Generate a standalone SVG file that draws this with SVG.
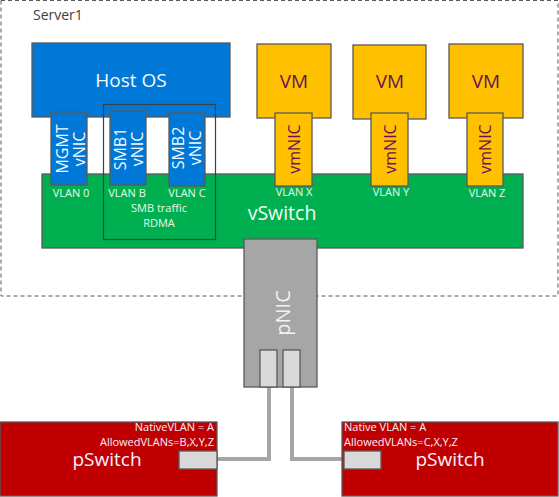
<svg xmlns="http://www.w3.org/2000/svg" width="559" height="497" viewBox="0 0 559 497">
<style>
text{font-family:"Open Sans","Noto Sans",sans-serif}
.b{stroke:#595959;stroke-width:1.3}
.blue{fill:#0078D7}
.vm{fill:#FFC000}
.sw{fill:#00B050}
.nic{fill:#A6A6A6}
.port{fill:#D9D9D9}
.ps{fill:#C00000}
.wt{fill:#F2F8FF}
.pt{fill:#6A1550}
.vl{fill:#E8F8E8;font-size:11px}
.wire{stroke:#A6A6A6;stroke-width:4;fill:none}
</style>
<rect width="559" height="497" fill="#fff"/>
<g id="server1">
<rect x="1" y="0.5" width="557" height="295.5" fill="none" stroke="#595959" stroke-width="1" stroke-dasharray="4,3"/>
<text x="33" y="20" font-size="14" fill="#404040">Server1</text>
</g>
<g id="vswitch">
<rect class="sw b" x="42" y="174" width="481" height="74"/>
<text x="282" y="220" font-size="19.5" fill="#F2FFF2" text-anchor="middle">vSwitch</text>
<text class="vl" x="71" y="197" text-anchor="middle">VLAN 0</text>
<text class="vl" x="127" y="197" text-anchor="middle">VLAN B</text>
<text class="vl" x="187" y="197" text-anchor="middle">VLAN C</text>
<text class="vl" x="294" y="196" text-anchor="middle">VLAN X</text>
<text class="vl" x="391" y="196" text-anchor="middle">VLAN Y</text>
<text class="vl" x="487" y="197" text-anchor="middle">VLAN Z</text>
</g>
<g id="hostos">
<rect class="blue b" x="32" y="43" width="198" height="74"/>
<text class="wt" x="131" y="87" font-size="19" text-anchor="middle">Host OS</text>
</g>
<g id="smbgroup">
<rect x="103.5" y="104.5" width="112" height="135" fill="none" stroke="#404040" stroke-width="1.2"/>
<text class="vl" x="159" y="211.5" text-anchor="middle" font-size="11.5">SMB traffic</text>
<text class="vl" x="159" y="227" text-anchor="middle" font-size="11.5">RDMA</text>
</g>
<g id="mgmt-vnic">
<rect class="blue b" x="51" y="112" width="36" height="73"/>
<text class="wt" font-size="16" text-anchor="middle" transform="translate(68,149) rotate(-90)"><tspan x="0" y="0">MGMT</tspan><tspan x="0" y="17">vNIC</tspan></text>
</g>
<g id="smb1-vnic">
<rect class="blue b" x="110" y="111" width="36" height="74"/>
<text class="wt" font-size="16" text-anchor="middle" transform="translate(126,149) rotate(-90)"><tspan x="0" y="0">SMB1</tspan><tspan x="0" y="17">vNIC</tspan></text>
</g>
<g id="smb2-vnic">
<rect class="blue b" x="169" y="113" width="36" height="73"/>
<text class="wt" font-size="16" text-anchor="middle" transform="translate(184,148) rotate(-90)"><tspan x="0" y="0">SMB2</tspan><tspan x="0" y="17">vNIC</tspan></text>
</g>
<g id="vm1">
<rect class="vm b" x="257" y="44" width="74" height="74"/>
<text class="pt" x="294" y="88" font-size="19" text-anchor="middle">VM</text>
<rect class="vm b" x="275" y="113" width="37" height="73"/>
<text class="pt" font-size="16" text-anchor="middle" transform="translate(300,149) rotate(-90)">vmNIC</text>
</g>
<g id="vm2">
<rect class="vm b" x="353" y="45" width="73" height="74"/>
<text class="pt" x="390" y="88" font-size="19" text-anchor="middle">VM</text>
<rect class="vm b" x="371" y="113" width="37" height="73"/>
<text class="pt" font-size="16" text-anchor="middle" transform="translate(396,149) rotate(-90)">vmNIC</text>
</g>
<g id="vm3">
<rect class="vm b" x="449" y="44" width="74" height="74"/>
<text class="pt" x="486" y="88" font-size="19" text-anchor="middle">VM</text>
<rect class="vm b" x="467" y="113" width="36" height="73"/>
<text class="pt" font-size="16" text-anchor="middle" transform="translate(491,149) rotate(-90)">vmNIC</text>
</g>
<g id="connectors">
<polyline class="wire" points="269,387 269,459 217,459"/>
<polyline class="wire" points="292,387 292,459 344,459"/>
</g>
<g id="pnic">
<rect class="nic b" x="244" y="239" width="73" height="148"/>
<text x="0" y="0" font-size="20" fill="#F2F2F2" text-anchor="middle" transform="translate(290,313) rotate(-90)">pNIC</text>
<rect class="port b" x="260" y="350" width="17" height="37"/>
<rect class="port b" x="283" y="350" width="17" height="37"/>
</g>
<g id="pswitch-left">
<rect class="ps b" x="0" y="422" width="217" height="74"/>
<text x="214" y="431" font-size="11" fill="#F5F0FF" text-anchor="end">NativeVLAN = A</text>
<text x="214" y="446" font-size="11" fill="#F5F0FF" text-anchor="end">AllowedVLANs=B,X,Y,Z</text>
<text x="107" y="466" font-size="19" fill="#F5F0FF" text-anchor="middle">pSwitch</text>
<rect class="port b" x="179" y="451" width="38" height="18"/>
</g>
<g id="pswitch-right">
<rect class="ps b" x="342" y="422" width="216" height="74"/>
<text x="344" y="431" font-size="11" fill="#F5F0FF">Native VLAN = A</text>
<text x="344" y="446" font-size="11" fill="#F5F0FF">AllowedVLANs=C,X,Y,Z</text>
<text x="450" y="466" font-size="19" fill="#F5F0FF" text-anchor="middle">pSwitch</text>
<rect class="port b" x="344" y="451" width="37" height="18"/>
</g>
</svg>
